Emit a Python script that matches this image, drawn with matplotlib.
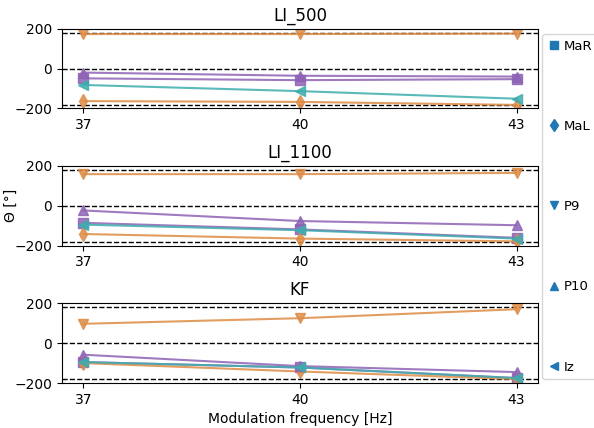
import matplotlib
matplotlib.use("Agg")
import matplotlib.pyplot as plt
from matplotlib.lines import Line2D

freqs = [37, 40, 43]
conditions = ["LI_500", "LI_1100", "KF"]
channels = ["MaR", "MaL", "P9", "P10", "Iz"]
markers = {"MaR": "s", "MaL": "d", "P9": "v", "P10": "^", "Iz": "<"}
colors = {"MaR": "#8e63b5", "MaL": "#de8c45", "P9": "#de8c45",
          "P10": "#8e63b5", "Iz": "#3eadad"}

# phase values [deg] per condition, per channel, at 37/40/43 Hz
li500_MaR = [-49, -58, -53]
li500_MaL = [-163, -167, -182]
li500_P9 = [173, 173, 175]
li500_P10 = [-20, -36, -40]
li500_Iz = [-82, -113, -151]

li1100_MaR = [-85, -118, -160]
li1100_MaL = [-141, -164, -178]
li1100_P9 = [159, 159, 165]
li1100_P10 = [-23, -76, -97]
li1100_Iz = [-94, -122, -164]

kf_MaR = [-95, -122, -175]
kf_MaL = [-100, -142, -180]
kf_P9 = [97, 125, 170]
kf_P10 = [-58, -115, -145]
kf_Iz = [-95, -122, -175]

data = {
    "LI_500": [li500_MaR, li500_MaL, li500_P9, li500_P10, li500_Iz],
    "LI_1100": [li1100_MaR, li1100_MaL, li1100_P9, li1100_P10, li1100_Iz],
    "KF": [kf_MaR, kf_MaL, kf_P9, kf_P10, kf_Iz],
}

fig, axes = plt.subplots(3, 1, figsize=(5.94, 4.28), dpi=100)
fig.subplots_adjust(left=0.104, right=0.906, top=0.933, bottom=0.105, hspace=0.72)

for ax, cond in zip(axes, conditions):
    for ref in [180, 0, -180]:
        ax.axhline(ref, color="black", linestyle="--", linewidth=1, zorder=1)
    for ch, vals in zip(channels, data[cond]):
        ax.plot(freqs, vals, marker=markers[ch], color=colors[ch],
                markersize=7, linewidth=1.5, alpha=0.85, zorder=2)
    ax.set_title(cond, fontsize=12)
    ax.set_ylim(-200, 200)
    ax.set_yticks([-200, 0, 200])
    ax.set_xticks(freqs)

axes[1].set_ylabel("Θ [°]")
axes[1].yaxis.set_label_coords(-0.092, 0.5)
axes[2].set_xlabel("Modulation frequency [Hz]")

handles = [Line2D([], [], marker=markers[ch], color="tab:blue", linestyle="none",
                  markersize=6) for ch in channels]
fig.legend(handles, channels, loc="upper left", bbox_to_anchor=(0.913, 0.92),
           fontsize=9.5, labelspacing=5.1, handletextpad=0.25, handlelength=1.0,
           borderaxespad=0)

fig.savefig("out.png", dpi=100)
